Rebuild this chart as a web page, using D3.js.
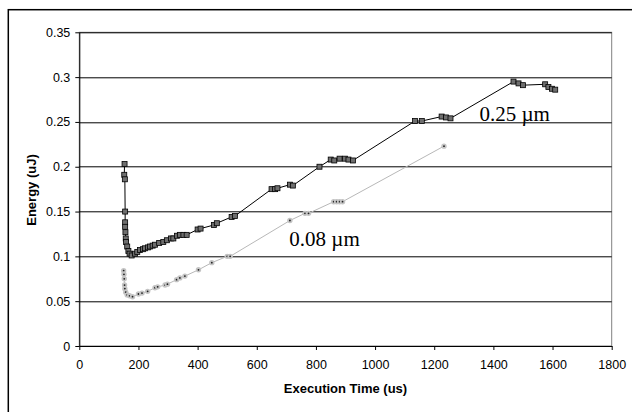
<!DOCTYPE html>
<html>
<head>
<meta charset="utf-8">
<script src="https://cdn.jsdelivr.net/npm/d3@7"></script>
<style>
  body { margin: 0; background: #fff; }
  svg { display: block; }
</style>
</head>
<body>
<div id="chart"></div>
<script>
// data: [execution time (us), energy (uJ)]
var series025 = [
  [153, 0.203], [152, 0.191], [154, 0.186], [155, 0.150], [155, 0.138],
  [155, 0.133], [156, 0.127], [157, 0.120], [158, 0.116], [162, 0.111],
  [166, 0.106], [170, 0.103], [177, 0.101], [188, 0.103], [196, 0.105],
  [205, 0.107], [215, 0.108], [222, 0.109], [232, 0.110], [239, 0.111],
  [248, 0.112], [256, 0.113], [270, 0.115], [284, 0.116], [296, 0.118],
  [310, 0.120], [318, 0.120], [330, 0.123], [340, 0.124], [352, 0.124],
  [363, 0.124], [400, 0.130], [410, 0.131], [455, 0.135], [465, 0.137],
  [515, 0.144], [526, 0.145], [650, 0.175], [662, 0.175], [670, 0.176],
  [712, 0.180], [722, 0.179], [812, 0.200], [850, 0.208], [862, 0.207],
  [880, 0.209], [898, 0.209], [910, 0.208], [925, 0.207], [1135, 0.251],
  [1158, 0.251], [1225, 0.256], [1240, 0.255], [1255, 0.254], [1468, 0.295],
  [1485, 0.293], [1500, 0.291], [1575, 0.292], [1586, 0.289], [1598, 0.287],
  [1609, 0.286]
];

var series008 = [
  [150, 0.084], [151, 0.080], [152, 0.075], [153, 0.068], [154, 0.064],
  [157, 0.060], [162, 0.057], [170, 0.056], [180, 0.055], [200, 0.058],
  [212, 0.059], [231, 0.061], [256, 0.065], [265, 0.066], [290, 0.068],
  [298, 0.069], [329, 0.074], [340, 0.076], [357, 0.078], [403, 0.085],
  [448, 0.093], [500, 0.100], [510, 0.100], [712, 0.140], [763, 0.148],
  [775, 0.148], [860, 0.161], [870, 0.161], [880, 0.161], [890, 0.161],
  [1233, 0.223]
];

var xTicks = [0, 200, 400, 600, 800, 1000, 1200, 1400, 1600, 1800];
var yTicks = [0, 0.05, 0.1, 0.15, 0.2, 0.25, 0.3, 0.35];

var svgWidth = 632;
var svgHeight = 412;

var margin = { top: 32.3, right: 20.3, bottom: 66, left: 79.3 };
var width = svgWidth - margin.left - margin.right;
var height = svgHeight - margin.top - margin.bottom;

var sansFont = 'Arial, "Liberation Sans", sans-serif';
var serifFont = '"Times New Roman", "Liberation Serif", serif';

var svg = d3.select('#chart')
  .append('svg')
  .attr('width', svgWidth)
  .attr('height', svgHeight);

// outer chart frame (runs off the bottom/right of the picture)
svg.append('rect')
  .attr('x', 8.3)
  .attr('y', 9.7)
  .attr('width', 640)
  .attr('height', 420)
  .attr('fill', '#fff')
  .attr('stroke', '#000')
  .attr('stroke-width', 1.5);

var chartGroup = svg.append('g')
  .attr('transform', `translate(${margin.left}, ${margin.top})`);

var xScale = d3.scaleLinear().domain([0, 1800]).range([0, width]);
var yScale = d3.scaleLinear().domain([0, 0.35]).range([height, 0]);

// plot area border
chartGroup.append('rect')
  .attr('width', width)
  .attr('height', height)
  .attr('fill', 'none')
  .attr('stroke', '#808080')
  .attr('stroke-width', 1);

// gridlines
chartGroup.selectAll('.grid')
  .data(yTicks.filter(d => d > 0))
  .enter()
  .append('line')
  .attr('x1', 0)
  .attr('x2', width)
  .attr('y1', d => Math.round(yScale(d)) + 0.5)
  .attr('y2', d => Math.round(yScale(d)) + 0.5)
  .attr('stroke', '#000')
  .attr('stroke-width', 1);

// axes
var bottomAxis = d3.axisBottom(xScale)
  .tickValues(xTicks)
  .tickSizeInner(4)
  .tickSizeOuter(0)
  .tickPadding(10)
  .tickFormat(d3.format('d'));

var leftAxis = d3.axisLeft(yScale)
  .tickValues(yTicks)
  .tickSizeInner(4)
  .tickSizeOuter(0)
  .tickPadding(5)
  .tickFormat(d => d === 0 ? '0' : String(d));

var xAxisG = chartGroup.append('g')
  .attr('transform', `translate(0, ${height})`)
  .call(bottomAxis);

var yAxisG = chartGroup.append('g')
  .call(leftAxis);

[xAxisG, yAxisG].forEach(function(g) {
  g.select('.domain').attr('stroke', '#000');
  g.selectAll('.tick line').attr('stroke', '#000');
  g.selectAll('.tick text')
    .attr('fill', '#000')
    .style('font-family', sansFont)
    .style('font-size', '12.5px');
});

// lines
var line = d3.line()
  .x(d => xScale(d[0]))
  .y(d => yScale(d[1]));

chartGroup.append('path')
  .datum(series008)
  .attr('d', line)
  .attr('fill', 'none')
  .attr('stroke', '#b8b8b8')
  .attr('stroke-width', 1);

chartGroup.append('path')
  .datum(series025)
  .attr('d', line)
  .attr('fill', 'none')
  .attr('stroke', '#000')
  .attr('stroke-width', 1);

// markers for 0.08 um: grey blob with a dark centre
var m008 = chartGroup.selectAll('.m008')
  .data(series008)
  .enter()
  .append('g')
  .attr('transform', d => `translate(${xScale(d[0])}, ${yScale(d[1])})`);

m008.append('circle')
  .attr('r', 2.7)
  .attr('fill', '#c4c4c4');

m008.append('circle')
  .attr('r', 0.9)
  .attr('fill', '#222');

// markers for 0.25 um: squares
chartGroup.selectAll('.m025')
  .data(series025)
  .enter()
  .append('rect')
  .attr('x', d => xScale(d[0]) - 2.5)
  .attr('y', d => yScale(d[1]) - 2.5)
  .attr('width', 5)
  .attr('height', 5)
  .attr('fill', '#6e6e6e')
  .attr('stroke', '#000')
  .attr('stroke-width', 0.8);

// series labels
chartGroup.append('text')
  .attr('x', xScale(1353))
  .attr('y', yScale(0.2505))
  .style('font-family', serifFont)
  .style('font-size', '21px')
  .text('0.25 \u00b5m');

chartGroup.append('text')
  .attr('x', xScale(710))
  .attr('y', yScale(0.1111))
  .style('font-family', serifFont)
  .style('font-size', '21px')
  .text('0.08 \u00b5m');

// axis titles
svg.append('text')
  .attr('x', margin.left + width / 2)
  .attr('y', 393)
  .attr('text-anchor', 'middle')
  .style('font-family', sansFont)
  .style('font-size', '13px')
  .style('font-weight', 'bold')
  .text('Execution Time (us)');

svg.append('text')
  .attr('transform', 'translate(36, 190) rotate(-90)')
  .attr('text-anchor', 'middle')
  .style('font-family', sansFont)
  .style('font-size', '13px')
  .style('font-weight', 'bold')
  .text('Energy (uJ)');
</script>
</body>
</html>
